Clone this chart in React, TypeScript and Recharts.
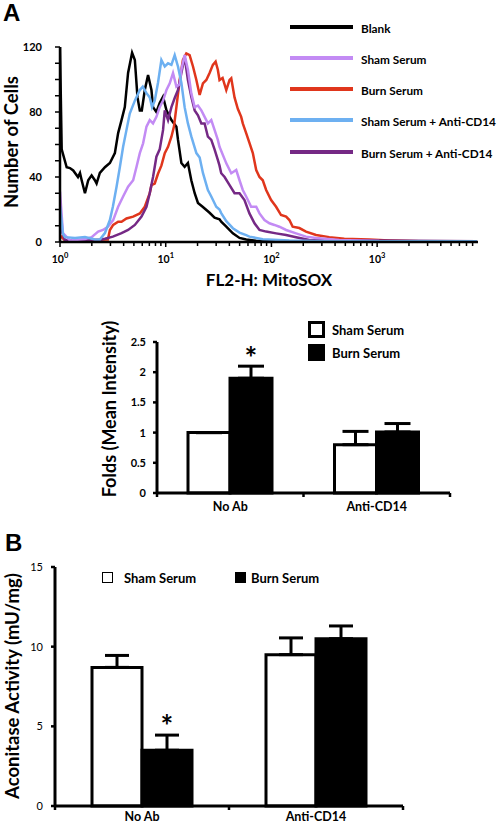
import {
  LineChart,
  Line,
  XAxis,
  YAxis,
  BarChart,
  Bar,
  ErrorBar,
  LabelList,
  Legend,
} from "recharts";

const FONT = "Lato, 'Open Sans', sans-serif";

// flow histogram traces: [log10 FL2-H, number of cells]
const blankTrace: [number, number][] = [
  [0, 120], [0.016, 57], [0.063, 46], [0.094, 45.5], [0.125, 44], [0.17, 40], [0.189, 42.5],
  [0.205, 38], [0.236, 30], [0.267, 38], [0.299, 41], [0.33, 38], [0.346, 36], [0.377, 42.5],
  [0.425, 46], [0.472, 48.6], [0.519, 54.7], [0.55, 67], [0.582, 75], [0.613, 83], [0.644, 104],
  [0.682, 116.5], [0.708, 112], [0.733, 89], [0.755, 81], [0.774, 81], [0.802, 93.5],
  [0.833, 102.8], [0.865, 93.5], [0.88, 83], [0.912, 80], [0.943, 85.5], [0.975, 89.4],
  [1.007, 81], [1.054, 75], [1.101, 71], [1.116, 63], [1.148, 48.6], [1.179, 46.3], [1.21, 48.6],
  [1.242, 38], [1.274, 30], [1.305, 24], [1.349, 21.7], [1.415, 18], [1.462, 15], [1.509, 14],
  [1.525, 12.5], [1.573, 9.5], [1.635, 5.3], [1.698, 2.5], [1.761, 1.5], [1.856, 0.8],
  [2.075, 0.4], [3.943, 0.3],
];

const shamTrace: [number, number][] = [
  [0, 31], [0.028, 5.5], [0.094, 1], [0.236, 1.8], [0.299, 3], [0.361, 6.4], [0.406, 7.4],
  [0.453, 9.4], [0.503, 13.5], [0.55, 21.7], [0.597, 28], [0.644, 34], [0.692, 38], [0.724, 46.3],
  [0.755, 54.7], [0.786, 60.7], [0.818, 71], [0.849, 75], [0.88, 73], [0.912, 77], [0.943, 83],
  [0.975, 87], [1.007, 93.5], [1.038, 97.6], [1.069, 104], [1.101, 95.6], [1.132, 97],
  [1.148, 106], [1.179, 115], [1.21, 106], [1.242, 91.5], [1.274, 83], [1.305, 84], [1.337, 81],
  [1.368, 77], [1.399, 73], [1.431, 75], [1.462, 69], [1.493, 62.8], [1.509, 58.6], [1.573, 48.4],
  [1.62, 42.3], [1.667, 44.3], [1.698, 38], [1.729, 32], [1.761, 28], [1.808, 21.7], [1.856, 21.7],
  [1.887, 17.6], [1.934, 13.5], [1.981, 11.5], [2.028, 10.5], [2.075, 9.4], [2.139, 7.4],
  [2.233, 5.3], [2.327, 3.3], [2.422, 2.5], [2.642, 1.2], [3.019, 0.6], [3.943, 0.5],
];

const burnTrace: [number, number][] = [
  [0, 4], [0.047, 1], [0.453, 1.5], [0.472, 7.4], [0.503, 10.5], [0.55, 12.5], [0.582, 12.5],
  [0.629, 14.5], [0.692, 15.6], [0.755, 17.6], [0.802, 21.7], [0.849, 30], [0.865, 35],
  [0.896, 36], [0.927, 42], [0.959, 47], [0.991, 54.6], [1.022, 58.6], [1.054, 64.8], [1.078, 71],
  [1.101, 83], [1.132, 99.7], [1.163, 112], [1.195, 116], [1.226, 115], [1.258, 108],
  [1.29, 99.7], [1.321, 90.5], [1.352, 97.6], [1.384, 99.7], [1.415, 104], [1.446, 109],
  [1.472, 111], [1.493, 106], [1.509, 99.7], [1.538, 101], [1.573, 93.5], [1.604, 99.7],
  [1.62, 100.7], [1.651, 89], [1.682, 82], [1.714, 77], [1.729, 73], [1.761, 67], [1.792, 61],
  [1.824, 54.7], [1.856, 44.3], [1.887, 40], [1.918, 38], [1.95, 32], [1.997, 25.8],
  [2.044, 21.7], [2.091, 16.6], [2.139, 15.6], [2.17, 13.5], [2.201, 9.4], [2.264, 8.6],
  [2.327, 6.4], [2.422, 4.3], [2.547, 3], [2.689, 2], [2.925, 1.5], [3.113, 1], [3.396, 0.5],
  [3.943, 0.5],
];

const shamCd14Trace: [number, number][] = [
  [0, 22], [0.028, 5], [0.047, 3], [0.142, 2.5], [0.236, 3], [0.33, 1.5], [0.377, 1.5],
  [0.425, 5.5], [0.472, 13.5], [0.5, 21.7], [0.535, 34], [0.566, 46], [0.597, 58.6], [0.629, 69],
  [0.66, 79], [0.708, 87], [0.755, 93.5], [0.783, 95.6], [0.818, 91.6], [0.849, 89], [0.871, 83],
  [0.896, 87], [0.927, 98], [0.959, 112], [0.991, 108], [1.022, 110], [1.054, 109], [1.085, 115],
  [1.116, 108], [1.148, 98], [1.179, 83], [1.21, 73], [1.242, 65], [1.29, 54.7], [1.321, 52],
  [1.352, 42.5], [1.399, 32], [1.431, 28], [1.478, 21.7], [1.509, 20], [1.525, 17.8],
  [1.573, 12.8], [1.635, 8.5], [1.698, 5.8], [1.761, 4.2], [1.792, 3.3], [1.856, 2.5],
  [1.918, 1.7], [2.17, 1], [2.547, 0.5], [3.943, 0.5],
];

const burnCd14Trace: [number, number][] = [
  [0, 10], [0.047, 1.2], [0.358, 1], [0.425, 2], [0.5, 3.3], [0.582, 5.5], [0.644, 7.4],
  [0.708, 10.5], [0.771, 15.6], [0.818, 21.7], [0.849, 30], [0.88, 40], [0.912, 52.5],
  [0.943, 57], [0.975, 69], [0.991, 81], [1.022, 75], [1.054, 83], [1.085, 88.6], [1.116, 93.5],
  [1.148, 104], [1.179, 114], [1.21, 99.7], [1.242, 89.4], [1.274, 81], [1.305, 78], [1.337, 73],
  [1.368, 73], [1.399, 64.8], [1.431, 62.8], [1.462, 57], [1.493, 50.5], [1.509, 47],
  [1.525, 42.3], [1.557, 40], [1.604, 35], [1.651, 30], [1.698, 30], [1.745, 25.8],
  [1.792, 17.6], [1.84, 11.5], [1.887, 7.4], [1.95, 6.4], [2.044, 5.3], [2.139, 4.3],
  [2.233, 2.9], [2.358, 1.2], [3.943, 0.5],
];

const traceNames = ["Blank", "Sham Serum", "Burn Serum", "Sham Serum + Anti-CD14", "Burn Serum + Anti-CD14"];
const traceColors = ["#000000", "#c38bf4", "#e0361c", "#6db0f1", "#752985"];
const traces = [blankTrace, shamTrace, burnTrace, shamCd14Trace, burnCd14Trace];
const drawOrder = [0, 2, 4, 1, 3];

const decades = [0, 1, 2, 3];
const logMax = 3.954;
const cellTicks = [0, 10, 20, 30, 40, 50, 60, 70, 80, 90, 100, 110, 120];

// bar panels
const groups = ["No Ab", "Anti-CD14"];

const foldsSham = [1, 0.8];
const foldsShamErr = [0, 0.22];
const foldsBurn = [1.9, 1.01];
const foldsBurnErr = [0.2, 0.14];
const foldsStar = ["*", ""];
const foldsTicks = [0, 0.5, 1, 1.5, 2, 2.5];

const aconSham = [8.7, 9.5];
const aconShamErr = [0.75, 1.05];
const aconBurn = [3.5, 10.5];
const aconBurnErr = [0.95, 0.8];
const aconStar = ["*", ""];
const aconTicks = [0, 5, 10, 15];

const logTicks: number[] = [];
decades.forEach((d) => {
  for (let k = 1; k <= 9; k++) {
    const v = d + Math.log10(k);
    if (v <= logMax + 1e-6) logTicks.push(v);
  }
});

const LogTick = ({ x, y, payload }: any) => {
  const v = payload.value;
  const major = Math.abs(v - Math.round(v)) < 1e-6;
  return (
    <g>
      <line x1={x} x2={x} y1={y} y2={y + (major ? 5 : 4)} stroke="#000" strokeWidth={1.5} />
      {major && (
        <text x={x} y={y + 21} textAnchor="middle" fontSize={10.5} fontWeight={700} fontFamily={FONT} fill="#000">
          10
          <tspan dy={-5} fontSize={7.5}>
            {Math.round(v)}
          </tspan>
        </text>
      )}
    </g>
  );
};

const CellTick = ({ x, y, payload }: any) =>
  payload.value % 40 === 0 ? (
    <text x={x} y={y + 4} textAnchor="end" fontSize={11} fontWeight={700} fontFamily={FONT} fill="#000">
      {payload.value}
    </text>
  ) : (
    <g />
  );

const valueTick = (bold: boolean) => ({ x, y, payload }: any) => (
  <text x={x} y={y + 4} textAnchor="end" fontSize={11} fontWeight={bold ? 700 : 400} fontFamily={FONT} fill="#000">
    {payload.value}
  </text>
);

const groupTick = (band: number, dy: number, size: number) => ({ x, y, payload, index }: any) => (
  <g>
    <line x1={x - band / 2} x2={x - band / 2} y1={y} y2={y + 4} stroke="#000" strokeWidth={2.5} />
    {index === groups.length - 1 && (
      <line x1={x + band / 2} x2={x + band / 2} y1={y} y2={y + 4} stroke="#000" strokeWidth={2.5} />
    )}
    <text x={x} y={y + dy} textAnchor="middle" fontSize={size} fontWeight={700} fontFamily={FONT} fill="#000">
      {payload.value}
    </text>
  </g>
);

const starLabel = (vals: number[], errs: number[], gap: number, size: number) => (props: any) => {
  const vb = props.viewBox ?? props;
  const { index, value } = props;
  if (!value) return null;
  const perUnit = vb.height / vals[index];
  const top = vb.y - errs[index] * perUnit;
  return (
    <text x={vb.x + vb.width / 2} y={top - gap} textAnchor="middle" fontSize={size} fontWeight={700} fontFamily={FONT} fill="#000">
      *
    </text>
  );
};

const axisStyle = { stroke: "#000", strokeWidth: 3 };

const Title = ({ text, x, y, size, rotate }: any) => (
  <div
    style={{
      position: "absolute",
      left: x,
      top: y,
      transform: `translate(-50%, -50%)${rotate ? " rotate(-90deg)" : ""}`,
      whiteSpace: "nowrap",
      fontSize: size,
      lineHeight: 1,
      fontWeight: 700,
      fontFamily: FONT,
      color: "#000",
    }}
  >
    {text}
  </div>
);

const Letter = ({ text, x, y }: any) => (
  <div
    style={{
      position: "absolute",
      left: x,
      top: y,
      fontSize: 24,
      lineHeight: "24px",
      fontWeight: 700,
      fontFamily: "'Liberation Sans', Arial, sans-serif",
    }}
  >
    {text}
  </div>
);

function Histogram() {
  return (
    <LineChart width={504} height={300} margin={{ top: 47, right: 26, bottom: 0, left: 0 }}>
      <XAxis
        type="number"
        dataKey="x"
        domain={[0, logMax]}
        ticks={logTicks}
        interval={0}
        height={58}
        tickSize={0}
        tickMargin={0}
        tick={<LogTick />}
        axisLine={{ stroke: "#000", strokeWidth: 2.5 }}
        allowDataOverflow
      />
      <YAxis
        type="number"
        domain={[0, 120]}
        ticks={cellTicks}
        interval={0}
        width={60}
        tickSize={5}
        tickMargin={13}
        tick={<CellTick />}
        tickLine={{ stroke: "#000", strokeWidth: 1.5 }}
        axisLine={{ stroke: "#000", strokeWidth: 2.5 }}
      />
      {drawOrder.map((i) => (
        <Line
          key={traceNames[i]}
          name={traceNames[i]}
          data={traces[i].map(([x, y]) => ({ x, y }))}
          dataKey="y"
          type="linear"
          stroke={traceColors[i]}
          strokeWidth={2.5}
          dot={false}
          isAnimationActive={false}
        />
      ))}
      <Legend
        layout="vertical"
        align="center"
        verticalAlign="middle"
        wrapperStyle={{ top: 11, left: 290, width: 214 }}
        content={() => (
          <div style={{ fontFamily: FONT, fontWeight: 700, fontSize: 11.8, whiteSpace: "nowrap" }}>
            {traceNames.map((n, i) => (
              <div key={n} style={{ display: "flex", alignItems: "center", height: 31.25 }}>
                <span style={{ width: 63, height: 4, background: traceColors[i], marginRight: 8, flex: "none" }} />
                <span style={{ marginTop: 3 }}>{n}</span>
              </div>
            ))}
          </div>
        )}
      />
    </LineChart>
  );
}

function FoldsChart() {
  const data = groups.map((g, i) => ({
    group: g,
    sham: foldsSham[i],
    shamErr: [0, foldsShamErr[i]],
    burn: foldsBurn[i],
    burnErr: [0, foldsBurnErr[i]],
    star: foldsStar[i],
  }));
  return (
    <BarChart width={380} height={220} data={data} margin={{ top: 42, right: 30, bottom: 0, left: 0 }} barGap={0} barSize={42}>
      <XAxis
        dataKey="group"
        height={27}
        tickSize={0}
        tickMargin={0}
        tick={groupTick(146.5, 18, 12.5)}
        axisLine={axisStyle}
      />
      <YAxis
        domain={[0, 2.5]}
        ticks={foldsTicks}
        interval={0}
        width={57}
        tickSize={4}
        tickMargin={7}
        tick={valueTick(true)}
        tickLine={{ stroke: "#000", strokeWidth: 2.5 }}
        axisLine={axisStyle}
      />
      <Bar dataKey="sham" name="Sham Serum" fill="#fff" stroke="#000" strokeWidth={3} isAnimationActive={false}>
        <ErrorBar dataKey="shamErr" width={13} strokeWidth={3} stroke="#000" direction="y" />
      </Bar>
      <Bar dataKey="burn" name="Burn Serum" fill="#000" stroke="#000" strokeWidth={3} isAnimationActive={false}>
        <ErrorBar dataKey="burnErr" width={13} strokeWidth={3} stroke="#000" direction="y" />
        <LabelList dataKey="star" content={starLabel(foldsBurn, foldsBurnErr, -3, 30)} />
      </Bar>
      <Legend
        layout="vertical"
        align="center"
        verticalAlign="middle"
        wrapperStyle={{ top: 18, left: 208, width: 170 }}
        content={() => (
          <div style={{ fontFamily: FONT, fontWeight: 700, fontSize: 13 }}>
            {["Sham Serum", "Burn Serum"].map((n, i) => (
              <div key={n} style={{ display: "flex", alignItems: "center", height: 23 }}>
                <span
                  style={{
                    width: 11,
                    height: 11,
                    border: "3px solid #000",
                    background: i === 0 ? "#fff" : "#000",
                    marginRight: 7,
                  }}
                />
                <span>{n}</span>
              </div>
            ))}
          </div>
        )}
      />
    </BarChart>
  );
}

function AconitaseChart() {
  const data = groups.map((g, i) => ({
    group: g,
    sham: aconSham[i],
    shamErr: [0, aconShamErr[i]],
    burn: aconBurn[i],
    burnErr: [0, aconBurnErr[i]],
    star: aconStar[i],
  }));
  return (
    <BarChart width={504} height={304} data={data} margin={{ top: 47, right: 101, bottom: 0, left: 0 }} barGap={0} barSize={50}>
      <XAxis
        dataKey="group"
        height={18}
        tickSize={0}
        tickMargin={0}
        tick={groupTick(174, 15, 12.5)}
        axisLine={axisStyle}
      />
      <YAxis
        domain={[0, 15]}
        ticks={aconTicks}
        interval={0}
        width={55}
        tickSize={4}
        tickMargin={8}
        tick={valueTick(false)}
        tickLine={{ stroke: "#000", strokeWidth: 2.5 }}
        axisLine={axisStyle}
      />
      <Bar dataKey="sham" name="Sham Serum" fill="#fff" stroke="#000" strokeWidth={3} isAnimationActive={false}>
        <ErrorBar dataKey="shamErr" width={12} strokeWidth={3} stroke="#000" direction="y" />
      </Bar>
      <Bar dataKey="burn" name="Burn Serum" fill="#000" stroke="#000" strokeWidth={3} isAnimationActive={false}>
        <ErrorBar dataKey="burnErr" width={12} strokeWidth={3} stroke="#000" direction="y" />
        <LabelList dataKey="star" content={starLabel(aconBurn, aconBurnErr, -2, 30)} />
      </Bar>
      <Legend
        layout="vertical"
        align="center"
        verticalAlign="middle"
        wrapperStyle={{ top: 49, left: 102, width: 260 }}
        content={() => (
          <div style={{ display: "flex", fontFamily: FONT, fontWeight: 700, fontSize: 13 }}>
            {["Sham Serum", "Burn Serum"].map((n, i) => (
              <div key={n} style={{ display: "flex", alignItems: "center", height: 17, width: i === 0 ? 133 : 120 }}>
                <span
                  style={{
                    width: 9,
                    height: 9,
                    border: "1.5px solid #000",
                    background: i === 0 ? "#fff" : "#000",
                    marginRight: i === 0 ? 11 : 5,
                  }}
                />
                <span>{n}</span>
              </div>
            ))}
          </div>
        )}
      />
    </BarChart>
  );
}

export default function App() {
  return (
    <div
      style={{
        position: "absolute",
        left: 0,
        top: 0,
        width: 504,
        height: 824,
        overflow: "hidden",
        background: "#fff",
        fontFamily: FONT,
      }}
    >
      <div style={{ position: "absolute", left: 0, top: 0 }}>
        <Histogram />
      </div>
      <div style={{ position: "absolute", left: 100, top: 300 }}>
        <FoldsChart />
      </div>
      <div style={{ position: "absolute", left: 0, top: 520 }}>
        <AconitaseChart />
      </div>
      <Letter text="A" x={3} y={1} />
      <Letter text="B" x={5} y={531} />
      <Title text="Number of Cells" x={11} y={142} size={18.5} rotate />
      <Title text="FL2-H: MitoSOX" x={269} y={279} size={17} />
      <Title text="Folds (Mean Intensity)" x={109} y={409} size={18} rotate />
      <Title text="Aconitase Activity (mU/mg)" x={12} y={686} size={18.5} rotate />
    </div>
  );
}
